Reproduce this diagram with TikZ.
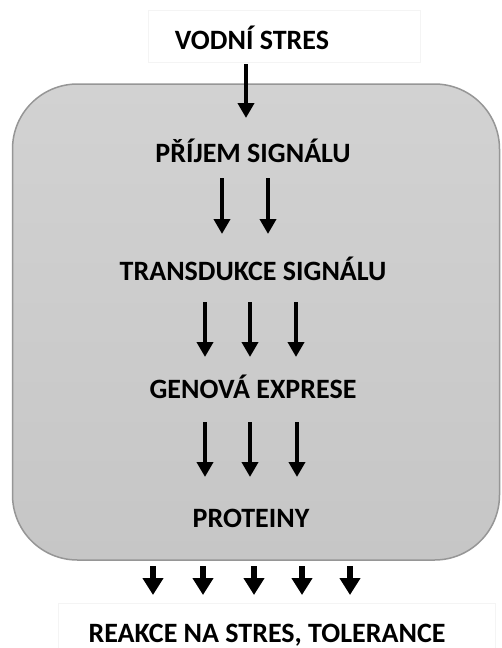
\documentclass[tikz,border=0pt]{standalone}
\usepackage{fontspec}
\setmainfont{Carlito}
\usetikzlibrary{arrows.meta}
\definecolor{boxfillA}{RGB}{210,210,210}
\definecolor{boxfillB}{RGB}{198,198,198}
\definecolor{boxline}{RGB}{150,150,150}
\definecolor{faint}{RGB}{244,244,244}
\tikzset{
  lbl/.style={font=\fontsize{28}{32}\selectfont\bfseries, text height=18pt, text depth=0pt, inner sep=0pt},
  thinarrow/.style={line width=4pt, -{Triangle[width=16pt,length=15pt]}},
  thickarrow/.style={line width=6pt, -{Triangle[width=20pt,length=17pt]}},
  labelbox/.style={draw=faint, line width=0.8pt, fill=white, inner sep=0pt},
}
\begin{document}
\begin{tikzpicture}[x=1pt,y=-1pt]
\useasboundingbox (0,0) rectangle (501,648);
\fill[white] (0,0) rectangle (501,648);
% main rounded box
\node[draw=boxline, line width=1.5pt, top color=boxfillA, bottom color=boxfillB,
      rounded corners=65pt, minimum width=487pt, minimum height=476pt, inner sep=0pt]
      (main) at (256,322) {};
% label boxes
\node[labelbox, minimum width=272pt, minimum height=52pt] (topbox) at (284,36) {};
\node[labelbox, minimum width=437pt, minimum height=52pt] (botbox) at (276.5,629) {};
% texts
\node[lbl] (t0) at (252,40) {VODNÍ STRES};
\node[lbl] (t1) at (253,153) {PŘÍJEM SIGNÁLU};
\node[lbl] (t2) at (253,271) {TRANSDUKCE SIGNÁLU};
\node[lbl] (t3) at (253,389) {GENOVÁ EXPRESE};
\node[lbl] (t4) at (251,518) {PROTEINY};
\node[lbl] (t5) at (267,633) {REAKCE NA STRES, TOLERANCE};
% arrow coordinates
\coordinate (a0s) at (246,64);  \coordinate (a0e) at (246,118);
\coordinate (b1s) at (222,178); \coordinate (b1e) at (222,234);
\coordinate (b2s) at (268,178); \coordinate (b2e) at (268,234);
\coordinate (c1s) at (205,302); \coordinate (c1e) at (205,357);
\coordinate (c2s) at (250,302); \coordinate (c2e) at (250,357);
\coordinate (c3s) at (296,302); \coordinate (c3e) at (296,357);
\coordinate (d1s) at (205,422); \coordinate (d1e) at (205,477);
\coordinate (d2s) at (250,422); \coordinate (d2e) at (250,477);
\coordinate (d3s) at (297,422); \coordinate (d3e) at (297,477);
\coordinate (e1s) at (153,566); \coordinate (e1e) at (153,595);
\coordinate (e2s) at (203,566); \coordinate (e2e) at (203,595);
\coordinate (e3s) at (254,566); \coordinate (e3e) at (254,595);
\coordinate (e4s) at (302,566); \coordinate (e4e) at (302,595);
\coordinate (e5s) at (350,566); \coordinate (e5e) at (350,595);
% arrows
\draw[thinarrow] (a0s) -- (a0e);
\draw[thinarrow] (b1s) -- (b1e);
\draw[thinarrow] (b2s) -- (b2e);
\draw[thinarrow] (c1s) -- (c1e);
\draw[thinarrow] (c2s) -- (c2e);
\draw[thinarrow] (c3s) -- (c3e);
\draw[thinarrow] (d1s) -- (d1e);
\draw[thinarrow] (d2s) -- (d2e);
\draw[thinarrow] (d3s) -- (d3e);
\draw[thickarrow] (e1s) -- (e1e);
\draw[thickarrow] (e2s) -- (e2e);
\draw[thickarrow] (e3s) -- (e3e);
\draw[thickarrow] (e4s) -- (e4e);
\draw[thickarrow] (e5s) -- (e5e);
\end{tikzpicture}
\end{document}
